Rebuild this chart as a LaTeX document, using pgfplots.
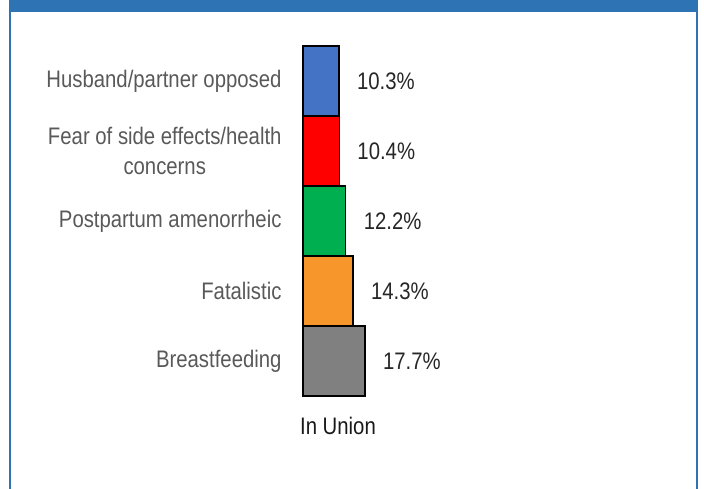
\documentclass[border=0pt]{standalone}
\usepackage{fontspec}
\setmainfont{Liberation Sans}[FakeStretch=0.85]
\usepackage{pgfplots}
\pgfplotsset{compat=1.18}
\definecolor{frameblue}{HTML}{2E74B5}
\definecolor{cBlue}{HTML}{4472C4}
\definecolor{cRed}{HTML}{FF0000}
\definecolor{cGreen}{HTML}{00B050}
\definecolor{cOrange}{HTML}{F7962A}
\definecolor{cGray}{HTML}{808080}
\definecolor{labgray}{HTML}{595959}
\begin{document}
\begin{tikzpicture}[x=1bp,y=1bp]
  \useasboundingbox (0,0) rectangle (704,489);
  % frame and title bar
  \fill[frameblue] (8.5,477) rectangle (698,489);
  \fill[frameblue] (8.5,0) rectangle (11,489);
  \fill[frameblue] (695.5,0) rectangle (698,489);
  \begin{axis}[
    at={(303bp,93bp)}, anchor=south west,
    scale only axis,
    width=70bp, height=350bp,
    xmin=0, xmax=20, ymin=-0.5, ymax=4.5,
    xbar, bar shift=0pt, bar width=70bp,
    axis line style={draw=none},
    xtick=\empty,
    ytick={0,1,2,3,4},
    yticklabels={Breastfeeding,Fatalistic,Postpartum amenorrheic,{Fear of side effects/health\\concerns},Husband/partner opposed},
    major tick length=0pt,
    yticklabel style={align=center, text=labgray, font=\fontsize{24}{30}\selectfont, xshift=-18bp},
    /pgf/number format/assume math mode=true,
    point meta=x,
    nodes near coords={\pgfmathprintnumber[fixed,precision=1,fixed zerofill]{\pgfplotspointmeta}\%},
    nodes near coords style={anchor=west, xshift=14bp, text=black!85, font=\fontsize{24}{28}\selectfont},
    clip=false,
  ]
    \addplot[draw=black, line width=1.5bp, fill=cGray] coordinates {(17.7,0)};
    \addplot[draw=black, line width=1.5bp, fill=cOrange] coordinates {(14.3,1)};
    \addplot[draw=black, line width=1.5bp, fill=cGreen] coordinates {(12.2,2)};
    \addplot[draw=black, line width=1.5bp, fill=cRed] coordinates {(10.4,3)};
    \addplot[draw=black, line width=1.5bp, fill=cBlue] coordinates {(10.3,4)};
  \end{axis}
  \node[anchor=base, text=black!90, font=\fontsize{24}{28}\selectfont] at (338,54) {In Union};
\end{tikzpicture}
\end{document}
